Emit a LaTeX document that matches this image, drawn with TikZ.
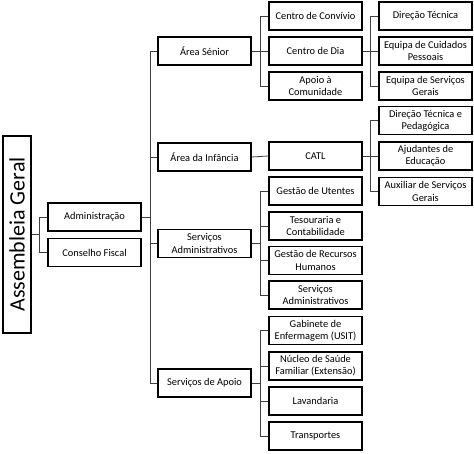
\documentclass[tikz,border=0pt]{standalone}
\usepackage{fontspec}
\setmainfont{Carlito}
\begin{document}
\begin{tikzpicture}[x=1pt,y=-1pt,
  box/.style={draw=black, line width=1.2pt, minimum width=93pt, minimum height=28pt, inner sep=1pt, align=center, font=\fontsize{10.4}{12.2}\selectfont},
  conn/.style={draw=black!75, line width=0.8pt}]
\useasboundingbox (0,0) rectangle (474,454);
% Level 0
\node[draw=black, line width=1.2pt, minimum width=28pt, minimum height=197pt, inner sep=0pt] (ag) at (17,234.5) {\rotatebox{90}{\fontsize{22}{24}\selectfont Assembleia Geral}};
% Level 1
\node[box] (adm) at (94.5,217) {Administração};
\node[box] (cf) at (94.5,252.5) {Conselho Fiscal};
% Level 2
\node[box] (sen) at (204.5,51) {Área Sénior};
\node[box] (inf) at (204.5,157) {Área da Infância};
\node[box] (sadm) at (204.5,243.5) {Serviços\\Administrativos};
\node[box] (sap) at (204.5,383) {Serviços de Apoio};
% Level 3
\node[box] (cc) at (315.5,16) {Centro de Convívio};
\node[box] (cd) at (315.5,51) {Centro de Dia};
\node[box] (ac) at (315.5,86) {Apoio à\\Comunidade};
\node[box] (catl) at (315.5,156) {CATL};
\node[box] (gu) at (315.5,191) {Gestão de Utentes};
\node[box] (tc) at (315.5,226) {Tesouraria e\\Contabilidade};
\node[box] (grh) at (315.5,260.5) {Gestão de Recursos\\Humanos};
\node[box] (sa2) at (315.5,295) {Serviços\\Administrativos};
\node[box] (ge) at (315.5,330.5) {Gabinete de\\Enfermagem (USIT)};
\node[box] (ns) at (315.5,366) {Núcleo de Saúde\\Familiar (Extensão)};
\node[box] (lav) at (315.5,401) {Lavandaria};
\node[box] (tr) at (315.5,436) {Transportes};
% Level 4
\node[box] (dt) at (425.5,16) {Direção Técnica};
\node[box] (ecp) at (425.5,51) {Equipa de Cuidados\\Pessoais};
\node[box] (esg) at (425.5,86) {Equipa de Serviços\\Gerais};
\node[box] (dtp) at (425.5,120.5) {Direção Técnica e\\Pedagógica};
\node[box] (aje) at (425.5,156) {Ajudantes de\\Educação};
\node[box] (asg) at (425.5,191.5) {Auxiliar de Serviços\\Gerais};
% bus coordinates
\coordinate (b0) at (39,0);
\coordinate (b1) at (150.5,0);
\coordinate (b2) at (260,0);
\coordinate (b3) at (370,0);
% connectors
\draw[conn] (ag.east) -- (ag.east -| b0);
\draw[conn] (adm.west) -- (adm.west -| b0) -- (cf.west -| b0) -- (cf.west);
\draw[conn] (adm.east) -- (adm.east -| b1);
\draw[conn] (sen.west) -- (sen.west -| b1) -- (sap.west -| b1) -- (sap.west);
\draw[conn] (inf.west) -- (inf.west -| b1);
\draw[conn] (sadm.west) -- (sadm.west -| b1);
% Area Senior
\draw[conn] (sen.east) -- (sen.east -| b2);
\draw[conn] (cc.west) -- (cc.west -| b2) -- (ac.west -| b2) -- (ac.west);
\draw[conn] (cd.west) -- (cd.west -| b2);
\draw[conn] (cd.east) -- (cd.east -| b3);
\draw[conn] (dt.west) -- (dt.west -| b3) -- (esg.west -| b3) -- (esg.west);
\draw[conn] (ecp.west) -- (ecp.west -| b3);
% Infancia
\draw[conn] (inf.east) -- (catl.west);
\draw[conn] (catl.east) -- (catl.east -| b3);
\draw[conn] (dtp.west) -- (dtp.west -| b3) -- (asg.west -| b3) -- (asg.west);
\draw[conn] (aje.west) -- (aje.west -| b3);
% Servicos Administrativos
\draw[conn] (sadm.east) -- (sadm.east -| b2);
\draw[conn] (gu.west) -- (gu.west -| b2) -- (sa2.west -| b2) -- (sa2.west);
\draw[conn] (tc.west) -- (tc.west -| b2);
\draw[conn] (grh.west) -- (grh.west -| b2);
% Servicos de Apoio
\draw[conn] (sap.east) -- (sap.east -| b2);
\draw[conn] (ge.west) -- (ge.west -| b2) -- (tr.west -| b2) -- (tr.west);
\draw[conn] (ns.west) -- (ns.west -| b2);
\draw[conn] (lav.west) -- (lav.west -| b2);
\end{tikzpicture}
\end{document}
